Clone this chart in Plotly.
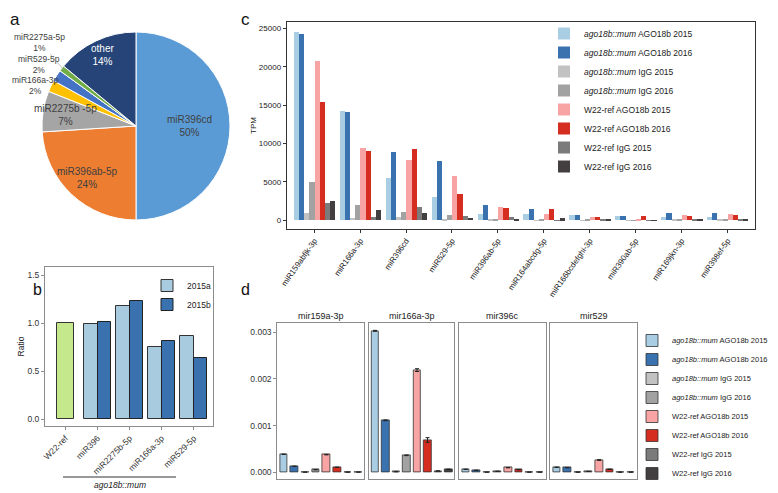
import math
import plotly.graph_objects as go

W, H = 778, 493
BODY = 8  # default page margin around the plot div

# ---------------- panel a : pie ----------------
pie_labels = ["miR396cd", "miR396ab-5p", "miR2275b -5p", "miR166a-3p",
              "miR529-5p", "miR2275a-5p", "other"]
pie_values = [50, 24, 7, 2, 2, 1, 14]
pie_colors = ["#5B9BD5", "#ED7D31", "#A5A5A5", "#FFC000",
              "#4472C4", "#70AD47", "#264478"]

# ---------------- panel b : ratio bars ----------------
b_categories = ["W22-ref", "miR396", "miR2275b-5p", "miR166a-3p", "miR529-5p"]
b_ref_category = ["W22-ref"]
b_ref_value = [1.0]
b_mut_categories = ["miR396", "miR2275b-5p", "miR166a-3p", "miR529-5p"]
b_2015a = [0.99, 1.18, 0.755, 0.87]
b_2015b = [1.01, 1.23, 0.815, 0.64]

# ---------------- panel c : TPM ----------------
c_categories = ["miR159abfjk-3p", "miR166a-3p", "miR396cd", "miR529-5p",
                "miR396ab-5p", "miR164abcdg-5p", "miR166bcdefghi-3p",
                "miR390ab-5p", "miR169jkn-3p", "miR398ef-5p"]
series_names = ["<i>ago18b::mum</i> AGO18b 2015", "<i>ago18b::mum</i> AGO18b 2016",
                "<i>ago18b::mum</i> IgG 2015", "<i>ago18b::mum</i> IgG 2016",
                "W22-ref AGO18b 2015", "W22-ref AGO18b 2016",
                "W22-ref IgG 2015", "W22-ref IgG 2016"]
series_colors = ["#a9cde2", "#3a72b0", "#c2c2c2", "#a2a2a2",
                 "#f9a4a4", "#d52d20", "#7b7b7b", "#433f40"]

c_mum_ago_2015 = [24560, 14240, 5470, 2990, 870, 780, 660, 520, 440, 460]
c_mum_ago_2016 = [24300, 14060, 8940, 7680, 1950, 1520, 660, 500, 930, 950]
c_mum_igg_2015 = [910, 260, 480, 220, 60, 40, 40, 30, 60, 60]
c_mum_igg_2016 = [4950, 1950, 1040, 690, 170, 220, 60, 40, 90, 110]
c_ref_ago_2015 = [20750, 9420, 7810, 5770, 1690, 820, 370, 230, 650, 760]
c_ref_ago_2016 = [15450, 8980, 9290, 3390, 1560, 1410, 430, 540, 590, 630]
c_ref_igg_2015 = [2210, 430, 1690, 560, 390, 40, 90, 30, 110, 90]
c_ref_igg_2016 = [2520, 1350, 950, 350, 200, 240, 70, 20, 80, 80]

# ---------------- panel d : facets ----------------
d_facets = ["mir159a-3p", "mir166a-3p", "mir396c", "mir529"]
d_mum_ago_2015 = [0.000386, 0.003032, 0.000064, 0.000107]
d_mum_ago_2016 = [0.000129, 0.001114, 0.000043, 0.000100]
d_mum_igg_2015 = [0.000004, 0.000014, 0.000004, 0.000004]
d_mum_igg_2016 = [0.000057, 0.000364, 0.000021, 0.000020]
d_ref_ago_2015 = [0.000378, 0.002190, 0.000100, 0.000263]
d_ref_ago_2016 = [0.000107, 0.000693, 0.000057, 0.000064]
d_ref_igg_2015 = [0.000004, 0.000029, 0.000004, 0.000004]
d_ref_igg_2016 = [0.000005, 0.000064, 0.000004, 0.000004]
d_mum_ago_2015_err = [0.000004, 0.000010, 0.000003, 0.000004]
d_mum_ago_2016_err = [0.000003, 0.000008, 0.000002, 0.000003]
d_mum_igg_2015_err = [0.0, 0.0, 0.0, 0.0]
d_mum_igg_2016_err = [0.000002, 0.000006, 0.000001, 0.000001]
d_ref_ago_2015_err = [0.000004, 0.000030, 0.000003, 0.000008]
d_ref_ago_2016_err = [0.000003, 0.000050, 0.000002, 0.000003]
d_ref_igg_2015_err = [0.0, 0.000002, 0.0, 0.0]
d_ref_igg_2016_err = [0.0, 0.000004, 0.0, 0.0]

c_series = [c_mum_ago_2015, c_mum_ago_2016, c_mum_igg_2015, c_mum_igg_2016,
            c_ref_ago_2015, c_ref_ago_2016, c_ref_igg_2015, c_ref_igg_2016]
d_series = [d_mum_ago_2015, d_mum_ago_2016, d_mum_igg_2015, d_mum_igg_2016,
            d_ref_ago_2015, d_ref_ago_2016, d_ref_igg_2015, d_ref_igg_2016]
d_errors = [d_mum_ago_2015_err, d_mum_ago_2016_err, d_mum_igg_2015_err, d_mum_igg_2016_err,
            d_ref_ago_2015_err, d_ref_ago_2016_err, d_ref_igg_2015_err, d_ref_igg_2016_err]

FW, FH = W - BODY, H - BODY


def px_x(p):
    return (p - BODY) / FW


def px_y(p):
    return 1 - (p - BODY) / FH


FONT = "Arial, Liberation Sans, Helvetica, sans-serif"
fig = go.Figure()

# ---- pie
pie_cx, pie_cy, pie_r = 136, 126, 94
fig.add_trace(go.Pie(
    labels=pie_labels, values=pie_values, sort=False, direction="clockwise",
    rotation=0, textinfo="none", showlegend=False,
    marker=dict(colors=pie_colors, line=dict(color="white", width=1)),
    domain=dict(x=[px_x(pie_cx - pie_r), px_x(pie_cx + pie_r)],
                y=[px_y(pie_cy + pie_r), px_y(pie_cy - pie_r)]),
))

annotations = []
total = sum(pie_values)
cum = 0
label_radius = [0.57, 0.76, 0.76, None, None, None, 0.83]
label_offset = [None, None, None, (-18, -2), (-20, -13), (-24, -28), None]
for i, v in enumerate(pie_values):
    theta = 2 * math.pi * (cum + v / 2) / total
    cum += v
    pct = round(100 * v / total)
    text = f"{pie_labels[i]}<br>{pct}%"
    if label_radius[i] is not None:
        f = label_radius[i]
        x = pie_cx + f * pie_r * math.sin(theta)
        y = pie_cy - f * pie_r * math.cos(theta)
        annotations.append(dict(
            x=px_x(x), y=px_y(y), xref="paper", yref="paper", text=text,
            xanchor="center", yanchor="middle", showarrow=False,
            font=dict(size=10, color="white" if pie_labels[i] == "other" else "#404040"),
        ))
    else:
        x = pie_cx + 0.97 * pie_r * math.sin(theta)
        y = pie_cy - 0.97 * pie_r * math.cos(theta)
        ax, ay = label_offset[i]
        annotations.append(dict(
            x=px_x(x), y=px_y(y), xref="paper", yref="paper", text=text,
            showarrow=True, arrowhead=0, arrowwidth=0.6, arrowcolor="#999",
            ax=ax, ay=ay, font=dict(size=8.5, color="#404040"),
        ))

# ---- panel b
fig.add_trace(go.Bar(
    x=b_ref_category, y=b_ref_value, xaxis="x", yaxis="y", width=0.53,
    marker=dict(color="#c6e88c", line=dict(color="#333", width=1)),
    showlegend=False, name="W22-ref"))
fig.add_trace(go.Bar(
    x=b_mut_categories, y=b_2015a, xaxis="x", yaxis="y", offset=-0.42, width=0.42,
    marker=dict(color="#a9cbe0", line=dict(color="#333", width=1)),
    name="2015a", legend="legend"))
fig.add_trace(go.Bar(
    x=b_mut_categories, y=b_2015b, xaxis="x", yaxis="y", offset=0, width=0.42,
    marker=dict(color="#3a72b0", line=dict(color="#222", width=1)),
    name="2015b", legend="legend"))

# ---- panel c
bw = 0.9 / len(c_series)
for k, (vals, nm, col) in enumerate(zip(c_series, series_names, series_colors)):
    fig.add_trace(go.Bar(
        x=c_categories, y=vals, xaxis="x2", yaxis="y2", name=nm,
        offset=-0.45 + k * bw, width=bw,
        marker=dict(color=col, line=dict(width=0)),
        legend="legend2", legendgroup="c"))

# ---- panel d
for j in range(len(d_facets)):
    xa = f"x{3 + j}"
    ya = f"y{3 + j}"
    for k, (vals, errs, nm, col) in enumerate(zip(d_series, d_errors, series_names, series_colors)):
        fig.add_trace(go.Bar(
            x=[nm], y=[vals[j]], xaxis=xa, yaxis=ya, name=nm, width=0.72,
            marker=dict(color=col, line=dict(color="#333", width=0.8)),
            error_y=dict(type="data", array=[errs[j]], thickness=1, width=2, color="#222"),
            legend="legend3", legendgroup=f"d{k}", showlegend=(j == 0)))

# ---- axes
grey_axis = dict(showline=True, mirror=True, linecolor="#8c8c8c", linewidth=1,
                 showgrid=False, zeroline=False, ticks="outside", ticklen=3,
                 tickcolor="#8c8c8c", tickfont=dict(size=8.5, color="#333"),
                 automargin=False)
layout_axes = {}
layout_axes["xaxis"] = dict(grey_axis, domain=[px_x(45), px_x(213)], anchor="y",
                            categoryorder="array", categoryarray=b_categories,
                            range=[-0.64, 4.6], tickangle=-45)
layout_axes["yaxis"] = dict(grey_axis, domain=[px_y(426), px_y(267)], anchor="x",
                            range=[-0.07, 1.585], tickvals=[0, 0.5, 1.0, 1.5],
                            tickformat=".1f",
                            title=dict(text="Ratio", font=dict(size=8.5), standoff=1))

dark_axis = dict(showline=True, mirror=True, linecolor="#333", linewidth=1,
                 showgrid=False, zeroline=False, ticks="outside", ticklen=3,
                 tickcolor="#333", tickfont=dict(size=8, color="#222"),
                 automargin=False)
layout_axes["xaxis2"] = dict(dark_axis, domain=[px_x(286.7), px_x(755)], anchor="y2",
                             categoryorder="array", categoryarray=c_categories,
                             range=[-0.6, 9.6], tickangle=-55)
layout_axes["yaxis2"] = dict(dark_axis, domain=[px_y(229), px_y(22)], anchor="x2",
                             range=[-1130, 25820], tickvals=[0, 5000, 10000, 15000, 20000, 25000],
                             tickformat="d",
                             title=dict(text="TPM", font=dict(size=8), standoff=1))

facet_px = [(277.3, 364.3), (368.7, 454.3), (459.3, 545.7), (550.3, 636.7)]
for j, (x0, x1) in enumerate(facet_px):
    n = 3 + j
    layout_axes[f"xaxis{n}"] = dict(grey_axis, domain=[px_x(x0), px_x(x1)], anchor=f"y{n}",
                                    categoryorder="array", categoryarray=series_names,
                                    range=[-0.6, 7.55], showticklabels=False, ticks="")
    ya = dict(grey_axis, domain=[px_y(479), px_y(323.3)], anchor=f"x{n}",
              range=[-0.000143, 0.003193], tickvals=[0, 0.001, 0.002, 0.003],
              tickformat=".3f")
    if j > 0:
        ya.update(showticklabels=False, ticks="", matches="y3")
    layout_axes[f"yaxis{n}"] = ya
    annotations.append(dict(x=px_x((x0 + x1) / 2), y=px_y(316), xref="paper", yref="paper",
                            text=d_facets[j], showarrow=False, xanchor="center", yanchor="middle",
                            font=dict(size=9, color="#222")))

# ---- panel letters and extra labels
for letter, x, y, s in [("a", 15, 8, 17), ("c", 245, 8, 17)]:
    annotations.append(dict(x=px_x(x), y=px_y(y), xref="paper", yref="paper", text=letter,
                            xanchor="center", yanchor="top",
                            showarrow=False, font=dict(size=s, color="#111")))
for letter, x, y, s in [("b", 37, 289, 16), ("d", 245, 289, 16)]:
    annotations.append(dict(x=px_x(x), y=px_y(y), xref="paper", yref="paper", text=letter,
                            xanchor="center", yanchor="middle",
                            showarrow=False, font=dict(size=s, color="#111")))
annotations.append(dict(x=px_x(120), y=px_y(485), xref="paper", yref="paper",
                        text="<i>ago18b::mum</i>", showarrow=False,
                        xanchor="center", yanchor="middle",
                        font=dict(size=8.5, color="#222")))

shapes = [dict(type="line", xref="paper", yref="paper", x0=px_x(63), x1=px_x(176),
               y0=px_y(477), y1=px_y(477), line=dict(color="#333", width=1))]

fig.update_layout(
    width=FW, height=FH, margin=dict(l=0, r=0, t=0, b=0, autoexpand=False),
    paper_bgcolor="white", plot_bgcolor="white",
    font=dict(family=FONT, size=8.5, color="#222"),
    barmode="overlay", bargap=0,
    annotations=annotations, shapes=shapes,
    legend=dict(x=px_x(147), y=px_y(271), xanchor="left", yanchor="top",
                bgcolor="rgba(0,0,0,0)", font=dict(size=8.5), tracegroupgap=0),
    legend2=dict(x=px_x(544), y=px_y(19), xanchor="left", yanchor="top",
                 bgcolor="rgba(0,0,0,0)", font=dict(size=8.5), tracegroupgap=0),
    legend3=dict(x=px_x(632), y=px_y(407), xanchor="left", yanchor="middle",
                 bgcolor="rgba(0,0,0,0)", font=dict(size=7.5), tracegroupgap=0),
    **layout_axes,
)

fig.write_html("out.html")
